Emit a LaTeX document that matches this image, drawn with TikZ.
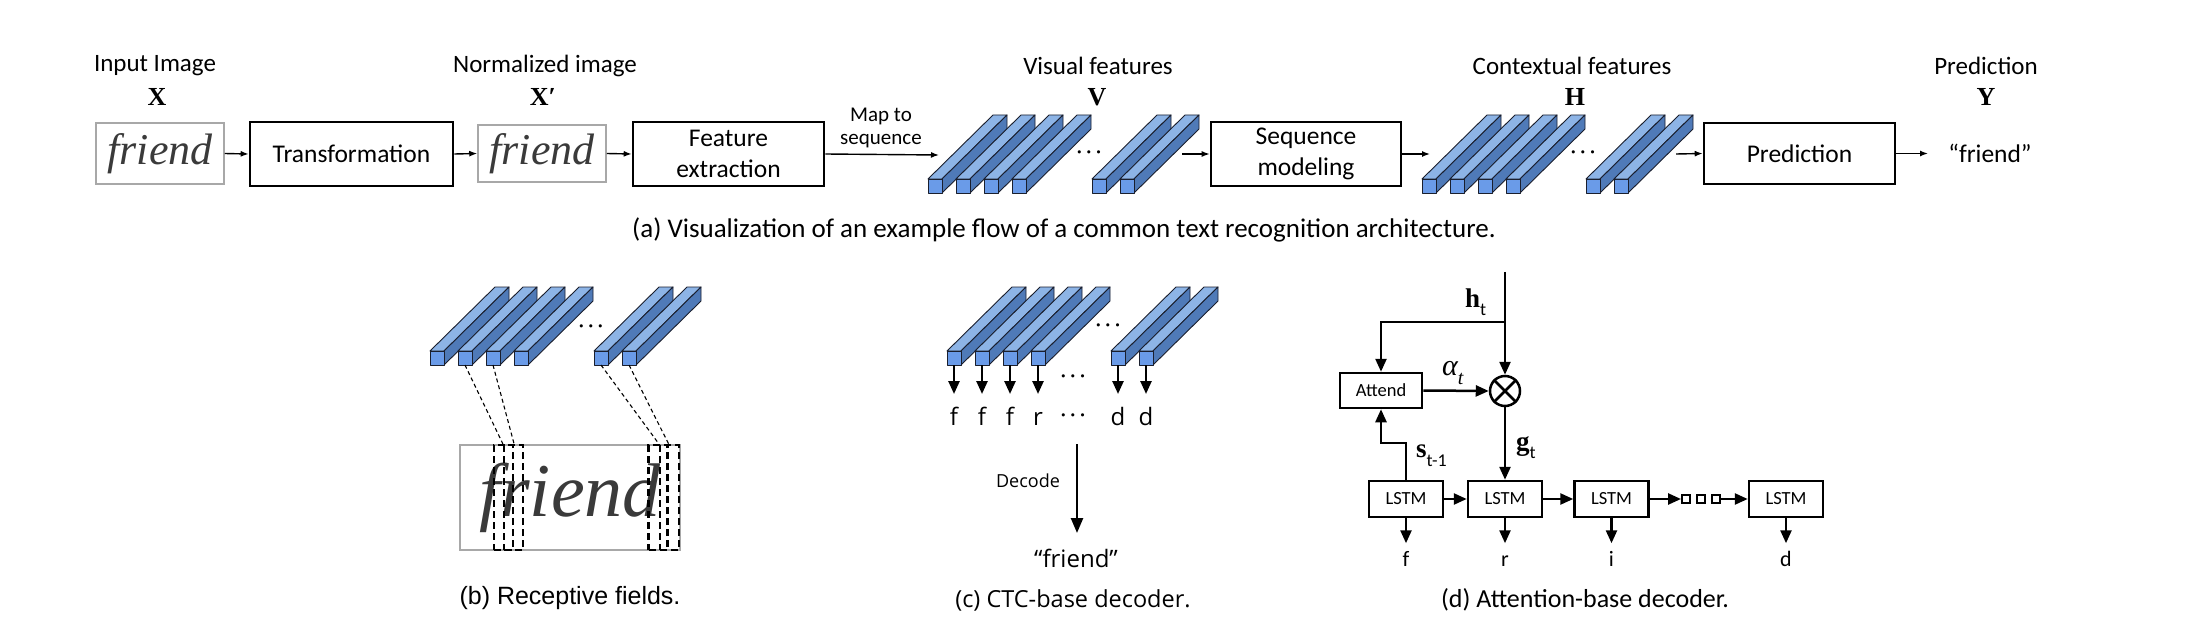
\documentclass[tikz,border=0pt]{standalone}
\usepackage{fontspec}
\setmainfont{Carlito}
\newfontfamily\arialf{Liberation Sans}
\newfontfamily\opensf{Open Sans}
\newfontfamily\serff{Liberation Serif}
\usetikzlibrary{arrows.meta,calc}
\newcommand\fsz[1]{\fontsize{#1}{#1}\selectfont}
\definecolor{bartop}{HTML}{8DB4E6}
\definecolor{barfront}{HTML}{6A9BE8}
\definecolor{barside}{HTML}{4F7AB8}
\definecolor{barline}{HTML}{1A1F2E}
\definecolor{imgborder}{HTML}{A8A8A8}
\definecolor{ink}{HTML}{3A3A3A}
\tikzset{
  barface/.style={draw=barline, line width=0.9pt, line join=round},
  topbox/.style={draw, line width=2.6pt, inner sep=0pt, align=center, font=\fontsize{25.5}{31}\selectfont},
  imgbox/.style={draw=imgborder, line width=1.5pt, inner sep=0pt, fill=white},
  hand/.style={text=ink, font=\serff\itshape\fsz{#1}},
  thinarrow/.style={-{Latex[length=8pt,width=6pt]}, line width=1.4pt},
  fatarrow/.style={-{Triangle[length=13pt,width=11pt]}, line width=2.5pt},
  dline/.style={line width=2.5pt},
  lstmbox/.style={draw, line width=2.5pt, minimum width=74pt, minimum height=36pt, inner sep=0pt, font=\fsz{18.5}},
  rfbox/.style={draw, line width=2.2pt, dash pattern=on 7pt off 4pt, inner sep=0pt, minimum width=19pt, minimum height=105pt},
  rfline/.style={line width=1.1pt, dash pattern=on 4pt off 3pt},
  lbl/.style={font=\fsz{25}},
  mathlbl/.style={font=\serff\bfseries\fsz{26}},
  dots/.style={font=\fsz{22}, anchor=base, inner sep=0pt},
}
\newcommand\featbar[2]{%
  \draw[barface, fill=bartop] (#1,#2) -- ++(14,0) -- ++(65,-64) -- ++(-14,0) -- cycle;
  \draw[barface, fill=barside] (#1+14,#2) -- ++(0,14) -- ++(65,-64) -- ++(0,-14) -- cycle;
  \draw[barface, fill=barfront] (#1,#2) rectangle ++(14,14);
}
\newcommand\dotsrow{·\hspace{4pt}·\hspace{4pt}·}
\begin{document}
\begin{tikzpicture}[x=1pt, y=-1pt]
\path[use as bounding box, fill=white] (0,0) rectangle (2188,631);

% ---------- (a) top row ----------
\node[lbl] (linput) at (155,66) {Input Image};
\node[mathlbl] (lX) at (157,97) {X};
\node[lbl] (lnorm) at (545,66) {Normalized image};
\node[mathlbl] (lXp) at (543,97) {X′};
\node[lbl] (lvis) at (1098,66) {Visual features};
\node[mathlbl] (lV) at (1097,97) {V};
\node[lbl] (lctx) at (1572,66) {Contextual features};
\node[mathlbl] (lH) at (1575,97) {H};
\node[lbl] (lpred) at (1986,66) {Prediction};
\node[mathlbl] (lY) at (1986,97) {Y};

\node[imgbox, minimum width=128pt, minimum height=61pt] (inimg) at (160,153.5) {};
\node[hand=44] (inhand) at (inimg) {friend};
\node[topbox, minimum width=203pt, minimum height=64pt] (trans) at (351.5,154) {Transformation};
\node[imgbox, minimum width=128pt, minimum height=57pt] (normimg) at (542,153.5) {};
\node[hand=44] (normhand) at (normimg) {friend};
\node[topbox, minimum width=191pt, minimum height=64pt] (feat) at (728.5,154) {Feature\\extraction};
\node[topbox, minimum width=190pt, minimum height=64pt] (seq) at (1306,154) {Sequence\\modeling};
\node[topbox, minimum width=191pt, minimum height=61pt] (pred) at (1799.5,153.5) {Prediction};
\node[font=\fsz{25.5}] (out) at (1990,153) {“friend”};
\node[font=\fontsize{21}{23}\selectfont, align=center] (maps) at (881,128) {Map to\\sequence};

\foreach \x in {928,956,984,1012,1092,1120} {\featbar{\x}{179}}
\foreach \x in {1422,1450,1478,1506,1586,1614} {\featbar{\x}{179}}
\node[dots] (vdots) at (1089,159) {\dotsrow};
\node[dots] (hdots) at (1583,159) {\dotsrow};

\coordinate (vin) at (939,155);
\coordinate (vout) at (1182,154);
\coordinate (hin) at (1430,154);
\coordinate (hout) at (1676,154);
\coordinate (pend) at (1928,153.5);
\draw[thinarrow] (inimg.east) -- (trans.west);
\draw[thinarrow] (trans.east) -- (normimg.west);
\draw[thinarrow] (normimg.east) -- (feat.west);
\draw[thinarrow] (feat.east) -- (vin);
\draw[thinarrow] (vout) -- (seq.west);
\draw[thinarrow] (seq.east) -- (hin);
\draw[thinarrow] (hout) -- (pred.west);
\draw[thinarrow] (pred.east) -- (pend);

\node[font=\fsz{27}] (capa) at (1064,230) {(a) Visualization of an example flow of a common text recognition architecture.};

% ---------- (b) receptive fields ----------
\foreach \x in {430,458,486,514,594,622} {\featbar{\x}{351}}
\node[dots] (bdots) at (591,332) {\dotsrow};
\node[imgbox, minimum width=220pt, minimum height=105pt] (bimg) at (570,497.5) {};
\node[hand=76] (bhand) at (bimg) {friend};
\node[rfbox] (rfa) at (503.5,497.5) {};
\node[rfbox] (rfb) at (513.5,497.5) {};
\node[rfbox] (rfc) at (658,497.5) {};
\node[rfbox] (rfd) at (669.5,497.5) {};
\coordinate (b2bot) at (465,365);
\coordinate (b3bot) at (493,365);
\coordinate (b5bot) at (601,365);
\coordinate (b6bot) at (629,365);
\draw[rfline] (b2bot) -- (rfb.north west);
\draw[rfline] (b3bot) -- (rfa.north east);
\draw[rfline] (b5bot) -- (rfd.north west);
\draw[rfline] (b6bot) -- (rfc.north east);
\node[font=\arialf\fsz{25}] (capb) at (570,598) {(b) Receptive fields.};

% ---------- (c) CTC decoder ----------
\foreach \x in {947,975,1003,1031,1111,1139} {\featbar{\x}{351}}
\node[dots] (cdots1) at (1108,331) {\dotsrow};
\foreach \x/\c [count=\i] in {947/f,975/f,1003/f,1031/r,1111/d,1139/d} {
  \coordinate (cs\i) at (\x+7,365);
  \coordinate (ce\i) at (\x+7,394);
  \draw[fatarrow] (cs\i) -- (ce\i);
  \node[font=\opensf\fsz{24}, anchor=base, inner sep=0pt] (cl\i) at (\x+7,425) {\c};
}
\node[dots] (cdots2) at (1073,382) {\dotsrow};
\node[dots] (cdots3) at (1073,421) {\dotsrow};
\coordinate (dectop) at (1077,444);
\coordinate (decbot) at (1077,533);
\draw[fatarrow, -{Triangle[length=15pt,width=12pt]}] (dectop) -- (decbot);
\node[font=\opensf\fsz{18}] (dec) at (1028,481) {Decode};
\node[font=\opensf\fsz{24}] (cfr) at (1076,558) {“friend”};
\node[font=\opensf\fsz{23.5}] (capc) at (1073,600) {(c) CTC-base decoder.};

% ---------- (d) attention decoder ----------
\coordinate (htop) at (1505,272);
\coordinate (hbr) at (1505,322);
\node[draw, circle, line width=2.5pt, minimum size=30pt, inner sep=0pt] (mul) at (1505,391) {};
\draw[dline] (mul.north west) -- (mul.south east);
\draw[dline] (mul.north east) -- (mul.south west);
\node[lstmbox, minimum width=82pt, minimum height=35pt] (att) at (1381,390.5) {Attend};
\node[lstmbox] (l1) at (1406,499) {LSTM};
\node[lstmbox] (l2) at (1505,499) {LSTM};
\node[lstmbox] (l3) at (1611.5,499) {LSTM};
\node[lstmbox] (l4) at (1786,499) {LSTM};
\node[draw, line width=2pt, minimum size=8pt, inner sep=0pt] (sq1) at (1686,499) {};
\node[draw, line width=2pt, minimum size=8pt, inner sep=0pt] (sq2) at (1701,499) {};
\node[draw, line width=2pt, minimum size=8pt, inner sep=0pt] (sq3) at (1716,499) {};

\draw[dline] (htop) -- (hbr);
\draw[fatarrow] (hbr) -- (mul.north);
\draw[fatarrow] (hbr) -| (att.north);
\draw[fatarrow] (att.east) -- (mul.west);
\draw[fatarrow] (mul.south) -- (l2.north);
\draw[fatarrow] (l1.north) -- ++(0,-37) -| (att.south);
\draw[fatarrow] (l1.east) -- (l2.west);
\draw[fatarrow] (l2.east) -- (l3.west);
\draw[fatarrow] (l3.east) -- (sq1.west);
\draw[fatarrow] (sq3.east) -- (l4.west);

\foreach \n/\c in {l1/f,l2/r,l3/i,l4/d} {
  \coordinate (\n o) at ($(\n.south)+(0,25)$);
  \draw[fatarrow] (\n.south) -- (\n o);
  \node[font=\fsz{22}, anchor=base, inner sep=0pt] (\n t) at ($(\n.south)+(0,48)$) {\c};
}

\node[anchor=base west, inner sep=0pt] (lht) at (1465,307) {{\serff\bfseries\fsz{27}h}\raisebox{-8pt}{\fsz{18}t}};
\node[anchor=base west, inner sep=0pt] (lal) at (1442,375) {{\serff\itshape\fsz{30}α}\raisebox{-9pt}{\serff\itshape\fsz{20}t}};
\node[anchor=base west, inner sep=0pt] (lgt) at (1516,450) {{\serff\bfseries\fsz{27}g}\raisebox{-8pt}{\fsz{18}t}};
\node[anchor=base west, inner sep=0pt] (lst) at (1416,457) {{\serff\bfseries\fsz{27}s}\raisebox{-9pt}{\fsz{18}t-1}};

\node[font=\fsz{26}] (capd) at (1585,600) {(d) Attention-base decoder.};
\end{tikzpicture}
\end{document}
